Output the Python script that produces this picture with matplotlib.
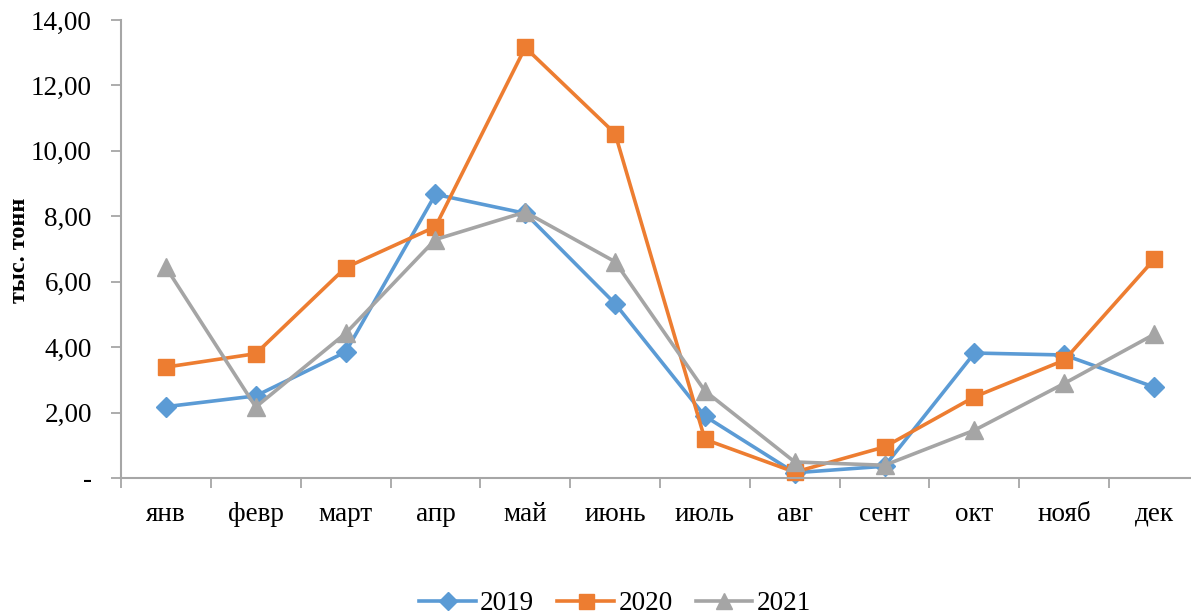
import matplotlib
matplotlib.use("Agg")
import matplotlib.pyplot as plt
from matplotlib.ticker import FixedLocator, FuncFormatter

months = ["янв", "февр", "март", "апр", "май", "июнь", "июль", "авг", "сент", "окт", "нояб", "дек"]
y2019 = [2.18, 2.51, 3.85, 8.67, 8.09, 5.33, 1.89, 0.16, 0.36, 3.82, 3.76, 2.78]
y2020 = [3.39, 3.80, 6.43, 7.68, 13.16, 10.53, 1.18, 0.18, 0.95, 2.48, 3.60, 6.68]
y2021 = [6.44, 2.17, 4.42, 7.29, 8.13, 6.61, 2.66, 0.49, 0.39, 1.46, 2.89, 4.39]
years = ["2019", "2020", "2021"]
y_ticks = [0, 2, 4, 6, 8, 10, 12, 14]

plt.rcParams["font.family"] = ["Liberation Serif", "DejaVu Serif"]

W, H, DPI = 1191, 616, 100
fig = plt.figure(figsize=(W / DPI, H / DPI), dpi=DPI)

left, right, top, bottom = 121, 1199, 20, 478
ax = fig.add_axes([left / W, 1 - bottom / H, (right - left) / W, (bottom - top) / H])

x = list(range(len(months)))
styles = [
    (y2019, "#5B9BD5", "D", 10.5),
    (y2020, "#ED7D31", "s", 12),
    (y2021, "#A5A5A5", "^", 12.5),
]
for (vals, col, mk, ms), lab in zip(styles, years):
    ax.plot(x, vals, color=col, lw=2.6, marker=mk, markersize=ms,
            markerfacecolor=col, markeredgecolor=col, label=lab, clip_on=False)

ax.set_xlim(-0.5, len(months) - 0.5)
ax.set_ylim(0, 14)

ax.yaxis.set_major_locator(FixedLocator(y_ticks))
ax.yaxis.set_major_formatter(FuncFormatter(
    lambda v, p: "-" if v == 0 else f"{v:.2f}".replace(".", ",")))

ax.set_xticks([i - 0.5 for i in range(len(months) + 1)])
ax.set_xticklabels([])
ax.set_xticks(x, minor=True)
ax.set_xticklabels(months, minor=True)
ax.tick_params(axis="x", which="minor", length=0, pad=17, labelsize=19.5)
ax.tick_params(axis="x", which="major", length=7, width=1.3, color="#A6A6A6", direction="out")
ax.tick_params(axis="y", length=7, width=1.3, color="#A6A6A6", direction="out",
               pad=14, labelsize=19.5)

for s in ("top", "right"):
    ax.spines[s].set_visible(False)
for s in ("left", "bottom"):
    ax.spines[s].set_color("#A6A6A6")
    ax.spines[s].set_linewidth(1.5)

fig.text(20 / W, 1 - 250 / H, "тыс. тонн", rotation=90, fontsize=17.5,
         fontweight="bold", ha="center", va="center")

leg = fig.legend(loc="center", bbox_to_anchor=(615 / W, 1 - 604 / H), ncol=3,
                 frameon=False, fontsize=19.5, handlelength=2.1,
                 handletextpad=0.15, columnspacing=0.85, markerscale=0.9)

fig.savefig("out.png", dpi=DPI)
